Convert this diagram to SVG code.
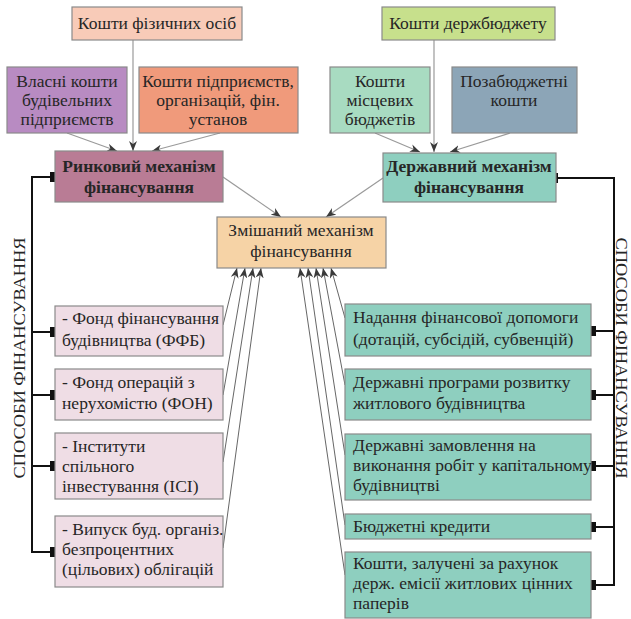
<svg xmlns="http://www.w3.org/2000/svg" width="631" height="619" viewBox="0 0 631 619">
<style>
.b{stroke:#8a8a8a;stroke-width:1.2}
.t{font-family:"Liberation Serif","Times New Roman","DejaVu Serif",serif;font-size:17.5px;fill:#262626}
.c{text-anchor:middle}
.bold{font-weight:bold}
.g{stroke:#9a9a9a;stroke-width:1.2;fill:none}
.k{stroke:#555;stroke-width:0.9;fill:none}
.bus{stroke:#111;stroke-width:2;fill:none}
.sq{fill:#111}
.side{font-family:"Liberation Serif","Times New Roman","DejaVu Serif",serif;font-size:17px;fill:#262626;text-anchor:middle}
</style>
<defs>
<marker id="ah" markerUnits="userSpaceOnUse" markerWidth="11" markerHeight="8" refX="10" refY="4" orient="auto">
<path d="M0,0 L10,4 L0,8 L3,4 z" fill="#3a3a3a"/>
</marker>
</defs>
<rect width="631" height="619" fill="#fff"/>

<g id="connectors">
<line class="g" x1="133" y1="40" x2="133" y2="151" marker-end="url(#ah)"/>
<line class="g" x1="67" y1="133" x2="117" y2="151" marker-end="url(#ah)"/>
<line class="g" x1="220" y1="133" x2="152" y2="151" marker-end="url(#ah)"/>
<line class="g" x1="434" y1="40" x2="434" y2="152" marker-end="url(#ah)"/>
<line class="g" x1="375" y1="133" x2="420" y2="152" marker-end="url(#ah)"/>
<line class="g" x1="510" y1="133" x2="450" y2="152" marker-end="url(#ah)"/>
<line class="g" x1="223" y1="177" x2="281" y2="217" marker-end="url(#ah)"/>
<line class="g" x1="383" y1="178" x2="326" y2="217" marker-end="url(#ah)"/>
<line class="k" x1="223" y1="325" x2="237" y2="268" marker-end="url(#ah)"/>
<line class="k" x1="223" y1="395" x2="245" y2="268" marker-end="url(#ah)"/>
<line class="k" x1="223" y1="462" x2="253" y2="268" marker-end="url(#ah)"/>
<line class="k" x1="223" y1="548" x2="261" y2="268" marker-end="url(#ah)"/>
<line class="k" x1="345" y1="318" x2="331" y2="268" marker-end="url(#ah)"/>
<line class="k" x1="345" y1="385" x2="323" y2="268" marker-end="url(#ah)"/>
<line class="k" x1="345" y1="455" x2="316" y2="268" marker-end="url(#ah)"/>
<line class="k" x1="345" y1="525" x2="308" y2="268" marker-end="url(#ah)"/>
<line class="k" x1="345" y1="575" x2="300" y2="268" marker-end="url(#ah)"/>
<path class="bus" d="M55,177 H32 V552 H55 M32,332 H55 M32,395 H55 M32,466 H55"/>
<path class="bus" d="M553,178 H614 V585 H591 M614,331 H591 M614,395 H591 M614,466 H591 M614,527 H591"/>
<rect class="sq" x="50" y="172" width="10" height="10"/>
<rect class="sq" x="50" y="327" width="10" height="10"/>
<rect class="sq" x="50" y="390" width="10" height="10"/>
<rect class="sq" x="50" y="461" width="10" height="10"/>
<rect class="sq" x="50" y="547" width="10" height="10"/>
<rect class="sq" x="549" y="173" width="9" height="10"/>
<rect class="sq" x="587" y="326" width="9" height="10"/>
<rect class="sq" x="587" y="390" width="9" height="10"/>
<rect class="sq" x="587" y="461" width="9" height="10"/>
<rect class="sq" x="587" y="522" width="9" height="10"/>
<rect class="sq" x="587" y="580" width="9" height="10"/>
</g>

<g id="n-fiz"><rect class="b" x="72" y="7" width="170" height="33" fill="#f8cbb8"/><text class="t c" x="157" y="29">Кошти фізичних осіб</text></g>
<g id="n-vlasni"><rect class="b" x="7" y="67" width="120" height="66" fill="#b88bc2"/><text class="t c" x="67" y="87">Власні кошти</text><text class="t c" x="67" y="106">будівельних</text><text class="t c" x="67" y="125">підприємств</text></g>
<g id="n-pidpr"><rect class="b" x="139" y="67" width="159" height="66" fill="#f09a7b"/><text class="t c" x="218" y="87">Кошти підприємств,</text><text class="t c" x="218" y="106">організацій, фін.</text><text class="t c" x="218" y="125">установ</text></g>
<g id="n-rynok"><rect class="b" x="55" y="151" width="168" height="51" fill="#b97c95"/><text class="t c bold" x="139" y="172">Ринковий механізм</text><text class="t c bold" x="139" y="193">фінансування</text></g>

<g id="n-derzhbud"><rect class="b" x="382" y="7" width="173" height="33" fill="#c7e08c"/><text class="t c" x="468" y="29">Кошти держбюджету</text></g>
<g id="n-misc"><rect class="b" x="330" y="67" width="100" height="66" fill="#a8dbc1"/><text class="t c" x="380" y="87">Кошти</text><text class="t c" x="380" y="106">місцевих</text><text class="t c" x="380" y="125">бюджетів</text></g>
<g id="n-pozab"><rect class="b" x="452" y="67" width="125" height="66" fill="#8ca5b7"/><text class="t c" x="514" y="87">Позабюджетні</text><text class="t c" x="514" y="106">кошти</text></g>
<g id="n-derzh"><rect class="b" x="383" y="153" width="173" height="49" fill="#8ecfbf"/><text class="t c bold" x="469" y="172">Державний механізм</text><text class="t c bold" x="469" y="193">фінансування</text></g>

<g id="n-mix"><rect class="b" x="217" y="217" width="169" height="51" fill="#f6d3a6"/><text class="t c" x="301" y="236">Змішаний механізм</text><text class="t c" x="301" y="257">фінансування</text></g>

<g id="n-ffb"><rect class="b" x="55" y="306" width="168" height="50" fill="#efdde5"/><text class="t" x="62" y="324">- Фонд фінансування</text><text class="t" x="62" y="346">будівництва (ФФБ)</text></g>
<g id="n-fon"><rect class="b" x="55" y="369" width="168" height="51" fill="#efdde5"/><text class="t" x="62" y="388">- Фонд операцій з</text><text class="t" x="62" y="409">нерухомістю (ФОН)</text></g>
<g id="n-isi"><rect class="b" x="55" y="433" width="168" height="66" fill="#efdde5"/><text class="t" x="62" y="452">- Інститути</text><text class="t" x="62" y="472">спільного</text><text class="t" x="62" y="492">інвестування (ІСІ)</text></g>
<g id="n-vyp"><rect class="b" x="55" y="516" width="168" height="71" fill="#efdde5"/><text class="t" x="62" y="535">- Випуск буд. організ.</text><text class="t" x="62" y="555">безпроцентних</text><text class="t" x="62" y="575">(цільових) облігацій</text></g>

<g id="n-nad"><rect class="b" x="345" y="304" width="246" height="52" fill="#8ecfbf"/><text class="t" x="353" y="323">Надання фінансової допомоги</text><text class="t" x="353" y="345">(дотацій, субсідій, субвенцій)</text></g>
<g id="n-prog"><rect class="b" x="345" y="369" width="246" height="51" fill="#8ecfbf"/><text class="t" x="353" y="388">Державні програми розвитку</text><text class="t" x="353" y="409">житлового будівництва</text></g>
<g id="n-zam"><rect class="b" x="345" y="434" width="246" height="66" fill="#8ecfbf"/><text class="t" x="353" y="451">Державні замовлення на</text><text class="t" x="353" y="471">виконання робіт у капітальному</text><text class="t" x="353" y="491">будівництві</text></g>
<g id="n-kred"><rect class="b" x="345" y="514" width="246" height="25" fill="#8ecfbf"/><text class="t" x="353" y="532">Бюджетні кредити</text></g>
<g id="n-emis"><rect class="b" x="345" y="552" width="246" height="66" fill="#8ecfbf"/><text class="t" x="353" y="569">Кошти, залучені за рахунок</text><text class="t" x="353" y="589">держ. емісії житлових цінних</text><text class="t" x="353" y="609">паперів</text></g>

<g id="side-labels">
<text class="side" transform="translate(25,358) rotate(-90)" textLength="241" lengthAdjust="spacingAndGlyphs">СПОСОБИ ФІНАНСУВАННЯ</text>
<text class="side" transform="translate(616,358) rotate(90)" textLength="241" lengthAdjust="spacingAndGlyphs">СПОСОБИ ФІНАНСУВАННЯ</text>
</g>
</svg>
